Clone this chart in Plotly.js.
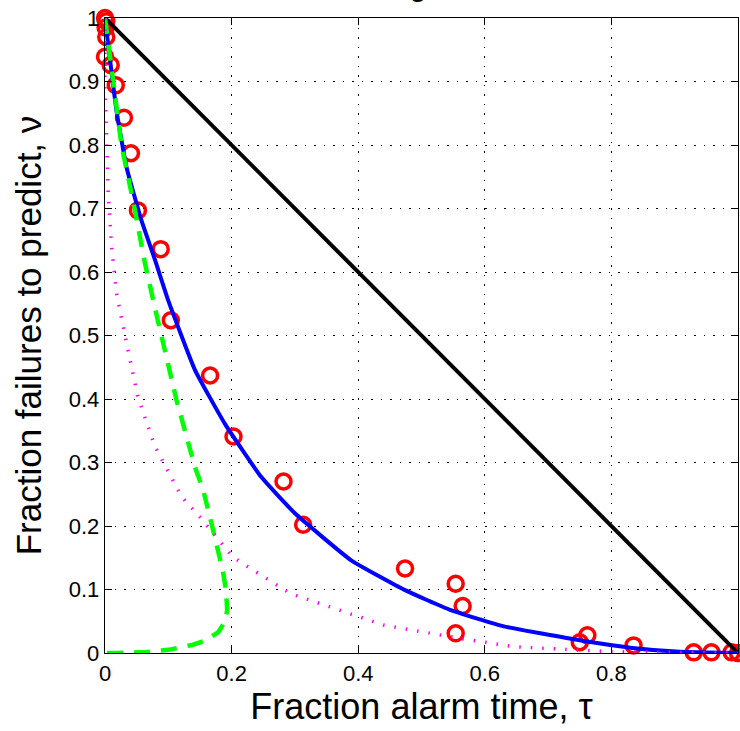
<!DOCTYPE html>
<html>
<head>
<meta charset="utf-8">
<script src="https://cdn.plot.ly/plotly-3.0.1.min.js"></script>
<style>html,body{margin:0;padding:0;background:#fff;}#chart{width:740px;height:731px;}</style>
</head>
<body>
<div id="chart"></div>
<script>
// Observed data (red circles)
const obsTau = [0,0.002,0.001,0.002,0.0,0.009,0.017,0.03,0.041,0.052,0.088,0.104,0.166,0.203,0.282,0.313,0.474,0.554,0.565,0.554,0.75,0.762,0.835,0.93,0.958,0.99,1.0];
const obsNu  = [1,0.995,0.985,0.97,0.939,0.926,0.894,0.843,0.787,0.697,0.636,0.524,0.437,0.341,0.27,0.202,0.133,0.109,0.074,0.031,0.017,0.028,0.012,0.001,0.001,0.001,0.0];

// Blue solid curve
const fitTau = [0,0.008,0.018,0.034,0.058,0.079,0.1,0.142,0.19,0.247,0.3,0.389,0.474,0.545,0.63,0.75,0.833,0.908,1.0];
const fitNu  = [1,0.934,0.855,0.765,0.68,0.619,0.555,0.446,0.36,0.277,0.22,0.146,0.099,0.068,0.042,0.02,0.008,0.002,0];

// Green dashed curve
const grTau = [0,0.013,0.026,0.045,0.063,0.082,0.113,0.142,0.155,0.168,0.178,0.186,0.191,0.193,0.19,0.179,0.16,0.139,0.1,0.06,0.02,0];
const grNu  = [1,0.9,0.8,0.709,0.614,0.53,0.398,0.293,0.257,0.205,0.167,0.13,0.1,0.068,0.05,0.033,0.02,0.013,0.005,0.001,0,0];

// Magenta dotted curve
const mgTau = [0,0.0,0.003,0.005,0.01,0.018,0.034,0.052,0.079,0.121,0.15,0.202,0.292,0.44,0.555,0.645,0.8,0.9,1.0];
const mgNu  = [1,0.88,0.80,0.724,0.645,0.567,0.488,0.403,0.325,0.246,0.214,0.151,0.094,0.044,0.024,0.01,0.002,0.0005,0];

// Random-guess diagonal
const diagTau = [0,1];
const diagNu  = [1,0];

const xTicks = [0,0.2,0.4,0.6,0.8,1];
const xTickText = ['0','0.2','0.4','0.6','0.8','1'];
const yTicks = [0,0.1,0.2,0.3,0.4,0.5,0.6,0.7,0.8,0.9,1];
const yTickText = ['0','0.1','0.2','0.3','0.4','0.5','0.6','0.7','0.8','0.9','1'];

const traces = [
  {x: obsTau, y: obsNu, type:'scatter', mode:'markers', cliponaxis:false,
   marker:{symbol:'circle-open', size:15, color:'#ff0000', line:{color:'#ff0000', width:3.5}}},
  {x: diagTau, y: diagNu, type:'scatter', mode:'lines', cliponaxis:false,
   line:{color:'#000000', width:4}},
  {x: fitTau, y: fitNu, type:'scatter', mode:'lines', cliponaxis:false,
   line:{color:'#0000ff', width:4, shape:'spline', smoothing:0.4}},
  {x: grTau, y: grNu, type:'scatter', mode:'lines', cliponaxis:false,
   line:{color:'#00ff00', width:4.5, dash:'16px,11px'}},
  {x: mgTau, y: mgNu, type:'scatter', mode:'lines', cliponaxis:false,
   line:{color:'#ff00ff', width:3.5, dash:'1.5px,10px'}}
];

const fontFam = 'Liberation Sans, Arial, Helvetica, sans-serif';
const axBase = {
  range:[0,1], showline:true, mirror:'ticks', linecolor:'#000', linewidth:1.3,
  ticks:'inside', ticklen:7, tickwidth:1, tickcolor:'#000',
  showgrid:true, gridcolor:'#000', gridwidth:1, griddash:'1.5px,8px',
  zeroline:false, tickfont:{family:fontFam, size:22, color:'#000'}
};

const layout = {
  width:740, height:731,
  margin:{l:105, r:2, t:18, b:78},
  paper_bgcolor:'#fff', plot_bgcolor:'#fff',
  showlegend:false,
  title:{text:'Original', font:{family:fontFam, size:30, color:'#000'},
         x:0.5, xref:'paper', y:1, yref:'paper', yanchor:'bottom', pad:{b:22}},
  xaxis:Object.assign({}, axBase, {tickvals:xTicks, ticktext:xTickText,
    title:{text:'Fraction alarm time, τ', font:{family:fontFam, size:36, color:'#000'}, standoff:7}}),
  yaxis:Object.assign({}, axBase, {tickvals:yTicks, ticktext:yTickText,
    title:{text:'Fraction failures to predict, ν', font:{family:fontFam, size:35, color:'#000'}, standoff:16}})
};

Plotly.newPlot('chart', traces, layout, {displayModeBar:false, staticPlot:true});
</script>
</body>
</html>
